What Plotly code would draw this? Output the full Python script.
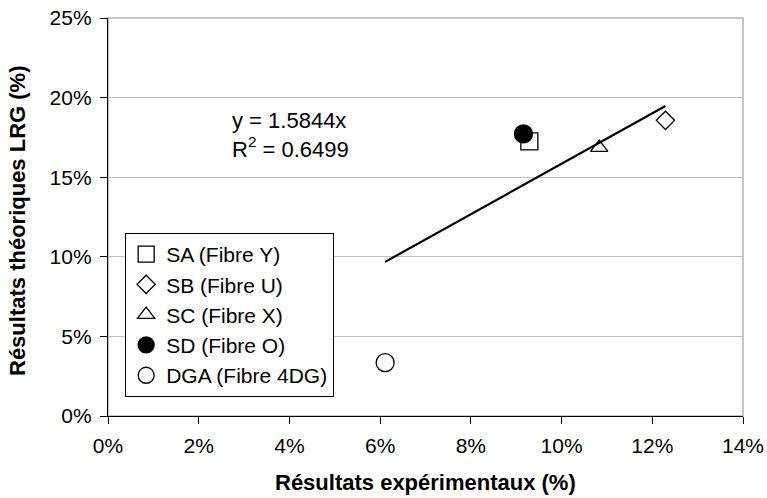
import plotly.graph_objects as go

# Data (fractions, shown as %)
series_names = ["SA (Fibre Y)", "SB (Fibre U)", "SC (Fibre X)", "SD (Fibre O)", "DGA (Fibre 4DG)"]
x_exp = [0.0929, 0.1229, 0.1083, 0.0916, 0.0611]
y_theo = [0.1725, 0.1857, 0.1686, 0.1772, 0.0335]
trend_slope = 1.5844
trend_r2 = 0.6499
x_title = "Résultats expérimentaux (%)"
y_title = "Résultats théoriques LRG (%)"

symbols = ["square", "diamond", "triangle-up", "circle", "circle"]
fills = ["white", "white", "white", "black", "white"]
sizes = [17, 14, 15, 18, 18]

FONT = "Arial, Liberation Sans, sans-serif"

fig = go.Figure()
for name, xv, yv, sym, fc, sz in zip(series_names, x_exp, y_theo, symbols, fills, sizes):
    fig.add_trace(go.Scatter(
        x=[xv], y=[yv], mode="markers", name=name,
        marker=dict(symbol=sym, size=sz, color=fc, line=dict(color="black", width=1.3)),
    ))

x_line = [min(x_exp), max(x_exp)]
y_line = [trend_slope * v for v in x_line]
fig.add_trace(go.Scatter(x=x_line, y=y_line, mode="lines", showlegend=False,
                         line=dict(color="black", width=2.2), hoverinfo="skip"))

fig.add_annotation(
    x=0.0270, y=0.1765, xref="x", yref="y", xanchor="left", yanchor="middle",
    text=f"y = {trend_slope}x<br>R<sup>2</sup> = {trend_r2}", showarrow=False,
    align="left", font=dict(family=FONT, size=22, color="black"),
)
# axis titles
fig.add_annotation(x=0.5, y=-0.166, xref="paper", yref="paper", xanchor="center", yanchor="middle",
                   text=f"<b>{x_title}</b>", showarrow=False,
                   font=dict(family=FONT, size=22, color="black"))
fig.add_annotation(x=-0.1417, y=0.49, xref="paper", yref="paper", xanchor="center", yanchor="middle",
                   text=f"<b>{y_title}</b>", showarrow=False, textangle=-90,
                   font=dict(family=FONT, size=22, color="black"))

# gray border on top/right
fig.add_shape(type="rect", xref="paper", yref="paper", x0=0, y0=0, x1=1, y1=1,
              line=dict(color="#b4b4b4", width=1.5), layer="below")

fig.update_layout(
    width=767, height=498,
    margin=dict(l=108, r=24, t=18, b=82, autoexpand=False),
    paper_bgcolor="white", plot_bgcolor="white",
    font=dict(family=FONT, size=21, color="black"),
    showlegend=True,
    legend=dict(x=0.027, y=0.46, xanchor="left", yanchor="top",
                bordercolor="black", borderwidth=1, bgcolor="white",
                font=dict(family=FONT, size=21, color="black"),
                itemwidth=30, tracegroupgap=0, traceorder="normal"),
    xaxis=dict(range=[0, 0.14], dtick=0.02, tick0=0, tickformat=".0%", automargin=False,
               showgrid=False, zeroline=False, showline=True, linecolor="black", linewidth=1.3,
               ticks="outside", ticklen=7, tickcolor="black", tickwidth=1.3, ticklabelstandoff=4,
               tickfont=dict(family=FONT, size=21)),
    yaxis=dict(range=[0, 0.25], dtick=0.05, tick0=0, tickformat=".0%", automargin=False,
               showgrid=True, gridcolor="#c0c0c0", gridwidth=1.3, zeroline=False,
               showline=True, linecolor="black", linewidth=1.3,
               ticks="outside", ticklen=7, tickcolor="black", tickwidth=1.3, ticklabelstandoff=4,
               tickfont=dict(family=FONT, size=21)),
)

fig.write_html("out.html", config={"displayModeBar": False},
               post_script="document.body.style.margin='0';document.body.style.overflow='hidden';")
